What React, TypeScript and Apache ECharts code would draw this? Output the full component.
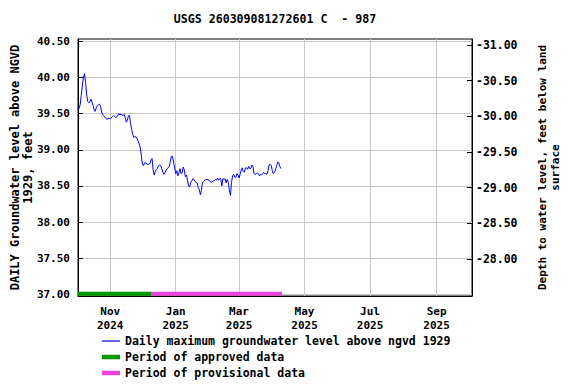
import React, { useEffect, useRef } from "react";
import * as echarts from "echarts";

const TITLE = "USGS 260309081272601 C  - 987";
const START_DATE = "2024-10-02";
const AXIS_MIN_DATE = "2024-10-02";
const AXIS_MAX_DATE = "2025-10-04";

// Daily maximum groundwater level above NGVD 1929 (ft), one value per day from START_DATE
const levels = [
  39.59, 39.57, 39.62, 39.75, 39.88, 39.99, 40.05, 39.94, 39.77, 39.67,
  39.65, 39.66, 39.70, 39.66, 39.61, 39.55, 39.53, 39.58, 39.61, 39.62,
  39.63, 39.60, 39.52, 39.49, 39.47, 39.45, 39.43, 39.42, 39.43, 39.43,
  39.43, 39.44, 39.46, 39.47, 39.46, 39.45, 39.45, 39.47, 39.50, 39.48,
  39.49, 39.48, 39.47, 39.49, 39.44, 39.38, 39.41, 39.47, 39.47, 39.36,
  39.28, 39.21, 39.17, 39.18, 39.18, 39.16, 39.12, 39.08, 39.03, 38.92,
  38.80, 38.78, 38.82, 38.82, 38.80, 38.80, 38.80, 38.81, 38.86, 38.88,
  38.72, 38.65, 38.70, 38.73, 38.74, 38.78, 38.79, 38.78, 38.74, 38.69,
  38.66, 38.68, 38.72, 38.74, 38.75, 38.77, 38.84, 38.91, 38.91, 38.83,
  38.76, 38.67, 38.71, 38.64, 38.68, 38.74, 38.67, 38.68, 38.76, 38.72,
  38.63, 38.65, 38.58, 38.50, 38.49, 38.55, 38.57, 38.60, 38.59, 38.56,
  38.55, 38.54, 38.48, 38.45, 38.38, 38.44, 38.55, 38.56, 38.58, 38.59,
  38.59, 38.59, 38.58, 38.56, 38.55, 38.56, 38.57, 38.57, 38.59, 38.58,
  38.61, 38.58, 38.60, 38.60, 38.50, 38.60, 38.59, 38.60, 38.54, 38.59,
  38.55, 38.44, 38.37, 38.55, 38.64, 38.66, 38.62, 38.62, 38.67, 38.65,
  38.61, 38.66, 38.72, 38.75, 38.70, 38.69, 38.75, 38.75, 38.73, 38.77,
  38.74, 38.74, 38.79, 38.77, 38.67, 38.66, 38.67, 38.68, 38.67, 38.64,
  38.66, 38.65, 38.67, 38.69, 38.67, 38.67, 38.66, 38.71, 38.79, 38.80,
  38.78, 38.71, 38.67, 38.69, 38.72, 38.78, 38.83, 38.82, 38.77, 38.74,
];

const approvedPeriod = ["2024-10-02", "2024-12-09"];
const provisionalPeriod = ["2024-12-09", "2025-04-10"];
const PERIOD_BAR_LEVEL = 37.012;

const leftTicks = [37.0, 37.5, 38.0, 38.5, 39.0, 39.5, 40.0, 40.5];
const rightTicks = [-31.0, -30.5, -30.0, -29.5, -29.0, -28.5, -28.0];
const monthTicks = ["2024-11-01", "2025-01-01", "2025-03-01", "2025-05-01", "2025-07-01", "2025-09-01"];
const MONTHS = ["Jan", "Feb", "Mar", "Apr", "May", "Jun", "Jul", "Aug", "Sep", "Oct", "Nov", "Dec"];

const LEFT_MIN = 36.981;
const LEFT_MAX = 40.529;
const RIGHT_MIN = -31.084;
const RIGHT_MAX = -27.481;

const SERIES_NAMES = [
  "Daily maximum groundwater level above ngvd 1929",
  "Period of approved data",
  "Period of provisional data",
];
const SERIES_COLORS = ["#0000ff", "#009900", "#ee44dd"];

const DAY = 86400000;
const ts = (d: string) => Date.parse(d + "T00:00:00Z");

const FONT = '"DejaVu Sans Mono", monospace';

export default function App() {
  const ref = useRef<HTMLDivElement>(null);
  useEffect(() => {
    if (!ref.current) return;
    const chart = echarts.init(ref.current, undefined, { renderer: "svg" });
    const t0 = ts(START_DATE);
    const lineData = levels.map((v, i) => [t0 + i * DAY, v]);
    const monthTs = monthTicks.map(ts);
    const textBase = { fontFamily: FONT, fontWeight: "bold" as const, fontSize: 11, color: "#000" };

    chart.setOption({
      animation: false,
      backgroundColor: "#fff",
      graphic: [
        {
          type: "text",
          x: 275,
          y: 19,
          style: {
            text: TITLE,
            fill: "#000",
            font: `bold 11.6px ${FONT}`,
            textAlign: "center",
            textVerticalAlign: "middle",
          },
        },
      ],
      grid: {
        left: 78,
        right: 104,
        top: 39,
        bottom: 88,
        outerBoundsMode: "none",
        containLabel: false,
        show: true,
        borderColor: "#000",
        borderWidth: 1,
        backgroundColor: "#fff",
      },
      legend: {
        orient: "vertical",
        left: 102,
        top: 335,
        padding: 0,
        itemWidth: 18,
        itemHeight: 12,
        itemGap: 4,
        symbolKeepAspect: true,
        textStyle: { ...textBase, fontSize: 11.5 },
        data: [
          { name: SERIES_NAMES[0], icon: "path://M0,0h18v1.2h-18z", itemStyle: { color: SERIES_COLORS[0] } },
          { name: SERIES_NAMES[1], icon: "path://M0,0h18v4.5h-18z", itemStyle: { color: SERIES_COLORS[1] } },
          { name: SERIES_NAMES[2], icon: "path://M0,0h18v4.5h-18z", itemStyle: { color: SERIES_COLORS[2] } },
        ],
      },
      xAxis: {
        type: "value",
        min: ts(AXIS_MIN_DATE),
        max: ts(AXIS_MAX_DATE),
        axisLine: { show: true, lineStyle: { color: "#000", width: 1 } },
        axisTick: { show: false, customValues: monthTs },
        axisLabel: {
          customValues: monthTs,
          ...textBase,
          lineHeight: 14,
          margin: 8,
          formatter: (v: number) => {
            const d = new Date(v);
            return MONTHS[d.getUTCMonth()] + "\n" + d.getUTCFullYear();
          },
        },
        splitLine: { show: true, lineStyle: { color: "#c8c8c8", width: 1 } },
      },
      yAxis: [
        {
          type: "value",
          position: "left",
          min: LEFT_MIN,
          max: LEFT_MAX,
          name: "DAILY Groundwater level above NGVD\n1929, feet",
          nameLocation: "middle",
          nameRotate: 90,
          nameGap: 44,
          nameMoveOverlap: false,
          nameTextStyle: { ...textBase, fontSize: 12, lineHeight: 13 },
          axisLine: { show: true, lineStyle: { color: "#000" } },
          axisTick: { show: true, inside: true, length: 5, customValues: leftTicks, lineStyle: { color: "#000" } },
          axisLabel: { ...textBase, margin: 8, customValues: leftTicks, formatter: (v: number) => v.toFixed(2) },
          splitLine: { show: true, lineStyle: { color: "#c8c8c8", width: 1 } },
        },
        {
          type: "value",
          position: "right",
          inverse: true,
          min: RIGHT_MIN,
          max: RIGHT_MAX,
          name: "Depth to water level, feet below land\nsurface",
          nameLocation: "middle",
          nameRotate: 90,
          nameGap: 64,
          nameTextStyle: { ...textBase, lineHeight: 13 },
          axisLine: { show: true, lineStyle: { color: "#000" } },
          axisTick: { show: true, inside: true, length: 5, customValues: rightTicks, lineStyle: { color: "#000" } },
          axisLabel: { ...textBase, fontSize: 11.5, margin: 4, customValues: rightTicks, formatter: (v: number) => v.toFixed(2) },
          splitLine: { show: false },
        },
      ],
      series: [
        {
          name: SERIES_NAMES[0],
          type: "line",
          yAxisIndex: 0,
          data: lineData,
          symbol: "none",
          showSymbol: false,
          lineStyle: { color: SERIES_COLORS[0], width: 1 },
          itemStyle: { color: SERIES_COLORS[0] },
          z: 3,
        },
        {
          name: SERIES_NAMES[1],
          type: "line",
          yAxisIndex: 0,
          data: approvedPeriod.map((d) => [ts(d), PERIOD_BAR_LEVEL]),
          symbol: "none",
          showSymbol: false,
          lineStyle: { color: SERIES_COLORS[1], width: 4 },
          itemStyle: { color: SERIES_COLORS[1] },
          z: 4,
        },
        {
          name: SERIES_NAMES[2],
          type: "line",
          yAxisIndex: 0,
          data: provisionalPeriod.map((d) => [ts(d), PERIOD_BAR_LEVEL]),
          symbol: "none",
          showSymbol: false,
          lineStyle: { color: SERIES_COLORS[2], width: 4 },
          itemStyle: { color: SERIES_COLORS[2] },
          z: 4,
        },
      ],
    });
    return () => chart.dispose();
  }, []);
  return (
    <div
      ref={ref}
      style={{ position: "fixed", left: 0, top: 0, width: 576, height: 384 }}
    />
  );
}
